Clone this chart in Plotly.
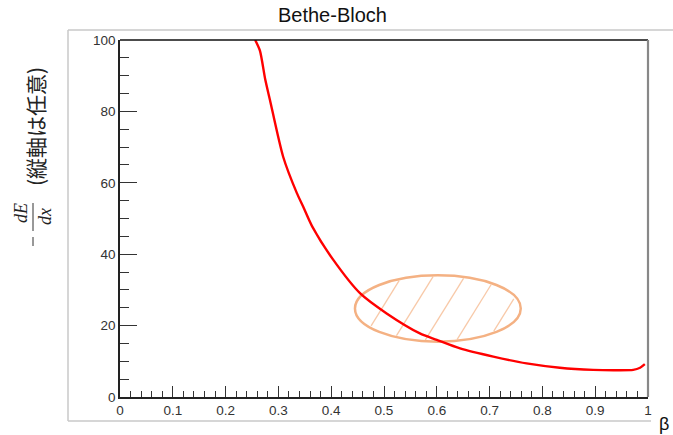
import numpy as np
import plotly.graph_objects as go

# ---- data ----
beta = [0.256, 0.265, 0.275, 0.284, 0.309, 0.335, 0.347, 0.365, 0.404, 0.455,
        0.505, 0.568, 0.600, 0.644, 0.707, 0.770, 0.833, 0.896, 0.935, 0.972,
        0.985, 0.994]
dedx = [100, 97.0, 89.0, 83.2, 67.3, 57.1, 53.3, 47.5, 38.4, 29.0,
        23.4, 17.8, 16.0, 13.6, 11.3, 9.4, 8.2, 7.6, 7.5, 7.6,
        8.2, 9.2]
x_ticks = [0, 0.1, 0.2, 0.3, 0.4, 0.5, 0.6, 0.7, 0.8, 0.9, 1]
x_tick_labels = ["0", "0.1", "0.2", "0.3", "0.4", "0.5", "0.6", "0.7", "0.8", "0.9", "1"]
y_ticks = [0, 20, 40, 60, 80, 100]
y_tick_labels = ["0", "20", "40", "60", "80", "100"]

# highlighted region (ellipse) in data coords
ell_cx, ell_cy = 0.602, 24.8
ell_rx, ell_ry = 0.157, 9.3

W, H = 673, 435
ML, MR, MT, MB = 120, 25, 40, 38
PW, PH = W - ML - MR, H - MT - MB
XR, YR = (0, 1), (0, 100)
sx = PW / (XR[1] - XR[0])   # px per x unit
sy = PH / (YR[1] - YR[0])   # px per y unit


def px2paper_x(px):
    return (px - ML) / PW


def px2paper_y(py):
    return (H - MB - py) / PH


fig = go.Figure()
fig.add_trace(go.Scatter(x=beta, y=dedx, mode="lines",
                         line=dict(color="#ff0000", width=2.4, shape="spline", smoothing=0.7),
                         showlegend=False, hoverinfo="skip"))

shapes = []
# hatch lines inside the ellipse (computed in pixel space)
slope = 0.62          # dx per dy (pixels)
spacing = 31.5
offset = 7.0          # shift of the hatch pattern from centre (px)
a, b = ell_rx * sx, ell_ry * sy
r = 0.96
for k in range(-4, 5):
    u = offset + k * spacing
    A = slope ** 2 / a ** 2 + 1 / b ** 2
    B = 2 * u * slope / a ** 2
    C = u ** 2 / a ** 2 - r ** 2
    disc = B * B - 4 * A * C
    if disc <= 0:
        continue
    for_t = [(-B - np.sqrt(disc)) / (2 * A), (-B + np.sqrt(disc)) / (2 * A)]
    pts = [(ell_cx + (u + slope * t) / sx, ell_cy + t / sy) for t in for_t]
    shapes.append(dict(type="line", xref="x", yref="y",
                       x0=pts[0][0], y0=pts[0][1], x1=pts[1][0], y1=pts[1][1],
                       line=dict(color="#f8c9a8", width=1.3), layer="below"))
shapes.append(dict(type="circle", xref="x", yref="y",
                   x0=ell_cx - ell_rx, x1=ell_cx + ell_rx,
                   y0=ell_cy - ell_ry, y1=ell_cy + ell_ry,
                   line=dict(color="#f4b183", width=2.5), layer="below"))

# plot frame top/right
shapes.append(dict(type="line", xref="paper", yref="paper", x0=0, x1=1, y0=1, y1=1,
                   line=dict(color="#111111", width=1.6)))
shapes.append(dict(type="line", xref="paper", yref="paper", x0=1, x1=1, y0=0, y1=1,
                   line=dict(color="#888888", width=2.2)))
# outer grey frame
gx0, gy0, gy1 = px2paper_x(68), px2paper_y(30), px2paper_y(421)
shapes.append(dict(type="line", xref="paper", yref="paper", x0=gx0, x1=px2paper_x(680),
                   y0=gy0, y1=gy0, line=dict(color="#c8c8c8", width=1.5)))
shapes.append(dict(type="line", xref="paper", yref="paper", x0=gx0, x1=gx0,
                   y0=gy0, y1=gy1, line=dict(color="#c8c8c8", width=1.5)))
shapes.append(dict(type="line", xref="paper", yref="paper", x0=gx0, x1=px2paper_x(651),
                   y0=gy1, y1=gy1, line=dict(color="#c8c8c8", width=1.5)))
# fraction bar and minus sign of the y title
shapes.append(dict(type="line", xref="paper", yref="paper",
                   x0=px2paper_x(33), x1=px2paper_x(33),
                   y0=px2paper_y(203), y1=px2paper_y(231),
                   line=dict(color="#333333", width=1)))
shapes.append(dict(type="line", xref="paper", yref="paper",
                   x0=px2paper_x(33), x1=px2paper_x(33),
                   y0=px2paper_y(237), y1=px2paper_y(246),
                   line=dict(color="#333333", width=1)))

annotations = [
    dict(text="(縦軸は任意)", textangle=-90, xref="paper", yref="paper",
         x=px2paper_x(35), y=px2paper_y(127), xanchor="center", yanchor="middle",
         showarrow=False, font=dict(family="Noto Sans CJK JP", size=21, color="#222222")),
    dict(text="<i>dE</i>", textangle=-90, xref="paper", yref="paper",
         x=px2paper_x(21), y=px2paper_y(213), xanchor="center", yanchor="middle",
         showarrow=False, font=dict(family="Liberation Serif", size=18, color="#222222")),
    dict(text="<i>dx</i>", textangle=-90, xref="paper", yref="paper",
         x=px2paper_x(45), y=px2paper_y(217), xanchor="center", yanchor="middle",
         showarrow=False, font=dict(family="Liberation Serif", size=18, color="#222222")),
    dict(text="β", xref="paper", yref="paper",
         x=px2paper_x(664), y=px2paper_y(424), xanchor="center", yanchor="middle",
         showarrow=False, font=dict(family="Liberation Sans", size=18, color="#111111")),
]

tick_font = dict(family="Liberation Sans", size=13.5, color="#333333")
fig.update_layout(
    width=W, height=H, autosize=False,
    margin=dict(l=ML, r=MR, t=MT, b=MB, pad=0),
    paper_bgcolor="white", plot_bgcolor="white",
    title=dict(text="Bethe-Bloch", x=0.494, xref="container", xanchor="center",
               y=1 - 15 / H, yref="container", yanchor="middle",
               font=dict(family="Liberation Sans", size=20, color="#111111")),
    shapes=shapes, annotations=annotations,
    xaxis=dict(range=list(XR), showgrid=False, zeroline=False,
               showline=True, linecolor="#222222", linewidth=1.5,
               ticks="inside", ticklen=11, tickwidth=1, tickcolor="#333333",
               tickvals=x_ticks, ticktext=x_tick_labels, tickfont=tick_font,
               minor=dict(ticks="inside", dtick=0.02, ticklen=6, tickwidth=1,
                          tickcolor="#333333", showgrid=False)),
    yaxis=dict(range=list(YR), showgrid=False, zeroline=False,
               showline=True, linecolor="#222222", linewidth=1.5,
               ticks="inside", ticklen=17, tickwidth=1, tickcolor="#333333",
               tickvals=y_ticks, ticktext=y_tick_labels, tickfont=tick_font,
               minor=dict(ticks="inside", dtick=5, ticklen=9, tickwidth=1,
                          tickcolor="#333333", showgrid=False)),
)

fig.write_html("out.html")
